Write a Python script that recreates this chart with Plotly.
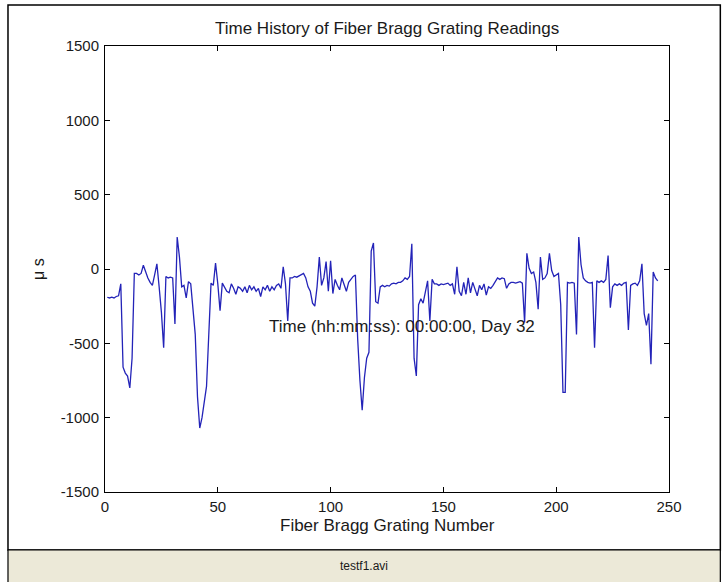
import plotly.graph_objects as go

# Fiber Bragg grating readings (micro-strain) at grating numbers 1..245
grating_number = list(range(1, 246))
strain = [
    -190, -195, -190, -195, -185, -180, -100, -660, -700, -720,
    -800, -600, -30, -30, -40, -30, 25, -20, -60, -90,
    -110, -40, 35, -120, -290, -530, -50, -60, -55, -60,
    -370, 215, 80, -120, -110, -195, -85, -100, -250, -440,
    -860, -1070, -1000, -880, -790, -440, -95, -110, 40, -100,
    -280, -95, -120, -150, -160, -100, -130, -170, -120, -130,
    -150, -120, -160, -110, -140, -120, -150, -130, -185, -120,
    -140, -110, -150, -120, -140, -110, -100, -130, 15, -100,
    -350, -60, -60, -50, -55, -45, -40, -30, -60, -120,
    -150, -230, -250, -120, 80, -110, -60, 50, -150, 55,
    -165, -70, -110, -140, -60, -110, -150, -90, -70, -50,
    -40, -470, -750, -950, -730, -600, -560, 120, 175, -220,
    -230, -120, -110, -120, -110, -115, -100, -95, -100, -90,
    -90, -80, -60, -70, -50, 170, -600, -720, -240, -200,
    -230, -150, -80, -350, -70, -100, -100, -110, -100, -105,
    -100, -95, -110, -100, -170, 15, -150, -180, -90, -170,
    -60, -160, -90, -130, -180, -110, -140, -100, -175, -120,
    -130, -110, -80, -60, -70, -60, -65, -130, -100, -90,
    -90, -95, -90, -85, -95, -360, 105, 5, -30, -20,
    -90, -270, 80, -70, -60, -30, 105, -10, -50, -40,
    -30, -240, -830, -830, -90, -95, -90, -95, -440, 215,
    30, -60, -80, -90, -95, -90, -530, -80, -90, -80,
    -90, -70, 90, -260, -120, -100, -110, -100, -110, -95,
    -90, -410, -110, -100, -95, -110, -80, 35, -300, -380,
    -300, -640, -20, -60, -80,
]

x_ticks = [0, 50, 100, 150, 200, 250]
y_ticks = [-1500, -1000, -500, 0, 500, 1000, 1500]
x_tick_labels = [str(v) for v in x_ticks]
y_tick_labels = [str(v) for v in y_ticks]

title_text = "Time History of Fiber Bragg Grating Readings"
x_label = "Fiber Bragg Grating Number"
y_label = "μ s"
time_text = "Time (hh:mm:ss): 00:00:00, Day 32"
status_text = "testf1.avi"

FONT = "Liberation Sans"
TXT = "#1a1a1a"

fig = go.Figure()
fig.add_trace(go.Scatter(
    x=grating_number, y=strain, mode="lines",
    line=dict(color="#2323b8", width=1.3),
    showlegend=False, hoverinfo="x+y",
))

axis_common = dict(
    showgrid=False, zeroline=False, showline=True, linecolor="black",
    linewidth=1, mirror="ticks", ticks="inside", ticklen=5,
    tickcolor="black", tickfont=dict(family=FONT, size=15, color=TXT),
    automargin=False,
)
fig.update_xaxes(range=[0, 250], tickvals=x_ticks, ticktext=x_tick_labels,
                 ticklabelstandoff=1, **axis_common)
fig.update_yaxes(range=[-1500, 1500], tickvals=y_ticks, ticktext=y_tick_labels,
                 ticklabelstandoff=2, **axis_common)

shapes = [
    # outer window frame
    dict(type="rect", xref="paper", yref="paper", x0=-0.172, x1=1.091,
         y0=-0.130, y1=1.0919, line=dict(color="black", width=1.5),
         fillcolor="rgba(0,0,0,0)", layer="below"),
    # status bar
    dict(type="rect", xref="paper", yref="paper", x0=-0.172, x1=1.091,
         y0=-0.205, y1=-0.130, line=dict(color="black", width=1.2),
         fillcolor="#ECE9D8", layer="below"),
]

annotations = [
    dict(text=title_text, xref="paper", yref="paper", x=0.5, y=1.04,
         showarrow=False, xanchor="center", yanchor="middle",
         font=dict(family=FONT, size=17, color=TXT)),
    dict(text=x_label, xref="paper", yref="paper", x=0.5, y=-0.074,
         showarrow=False, xanchor="center", yanchor="middle",
         font=dict(family=FONT, size=17, color=TXT)),
    dict(text=y_label, xref="paper", yref="paper", x=-0.119, y=0.5,
         showarrow=False, xanchor="center", yanchor="middle", textangle=-90,
         font=dict(family=FONT, size=16, color=TXT)),
    dict(text=time_text, x=131.5, y=-390, xref="x", yref="y",
         showarrow=False, xanchor="center", yanchor="middle",
         font=dict(family=FONT, size=17, color=TXT)),
    dict(text=status_text, xref="paper", yref="paper", x=0.46, y=-0.167,
         showarrow=False, xanchor="center", yanchor="middle",
         font=dict(family=FONT, size=12, color=TXT)),
]

fig.update_layout(
    width=723, height=582,
    margin=dict(l=105, r=54, t=46, b=90, pad=0),
    paper_bgcolor="white", plot_bgcolor="white",
    shapes=shapes, annotations=annotations,
    font=dict(family=FONT, color=TXT),
)

fig.write_html("out.html", config={"displayModeBar": False},
               post_script="document.body.style.margin='0';")
